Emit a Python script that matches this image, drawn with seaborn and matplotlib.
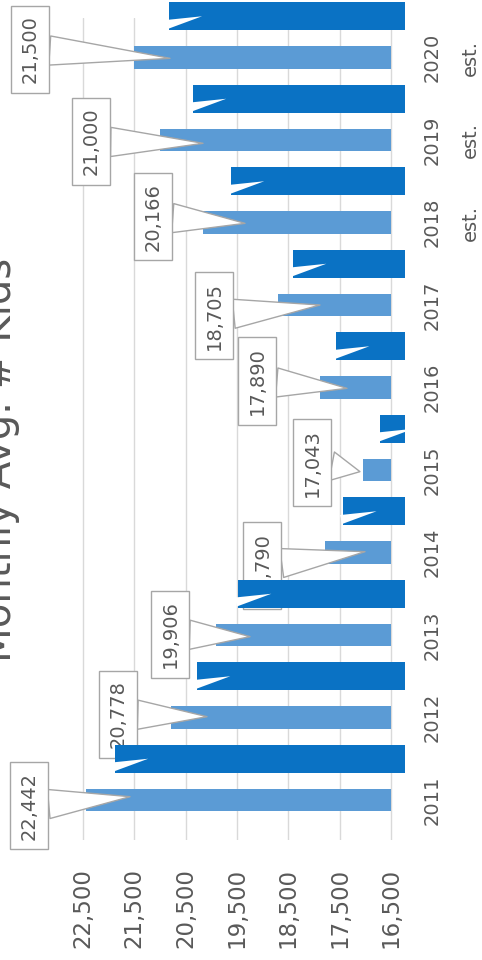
import numpy as np
import pandas as pd
import matplotlib
matplotlib.use("Agg")
import matplotlib.pyplot as plt
import seaborn as sns

# ---- data ----
years = ["2011", "2012", "2013", "2014", "2015", "2016", "2017", "2018", "2019", "2020"]
estimated = [False, False, False, False, False, False, False, True, True, True]
monthly_avg = [22442, 20778, 19906, 17790, 17043, 17890, 18705, 20166, 21000, 21500]
second_series = [21880, 20280, 19480, 17430, 16710, 17570, 18410, 19620, 20360, 20830]
value_ticks = [16500, 17500, 18500, 19500, 20500, 21500, 22500]

# ---- layout / style ----
BASE = 16500
DARK_BASE = 16220
LIGHT = "#5b9bd5"
DARK = "#0a72c4"
GRID = "#d9d9d9"
TEXT = "#595959"
# callout box centre and pointer tip, in (value, position) coordinates
callout_box = [(23552, -0.07), (21818, 1.04), (20805, 2.01), (19013, 2.84), (18039, 4.09),
               (19110, 5.08), (19948, 5.87), (21136, 7.07), (22344, 7.98), (23532, 9.10)]
callout_tip = [(21584, 0.04), (20084, 1.01), (19247, 1.98), (17006, 3.01), (17104, 3.98),
               (17357, 4.99), (17883, 6.00), (19344, 6.99), (20162, 7.96), (20805, 8.99)]

sns.set_theme(style="white")
plt.rcParams["font.family"] = ["DejaVu Sans"]

fig = plt.figure(figsize=(4.82, 9.6), dpi=100)
ax = fig.add_axes([70 / 482, 120 / 960, 345 / 482, 822 / 960])

light_df = pd.DataFrame({"pos": np.arange(len(years), dtype=float), "value": monthly_avg})
dark_df = pd.DataFrame({"pos": np.arange(len(years), dtype=float) + 0.5, "value": second_series})

sns.barplot(data=light_df, x="value", y="pos", orient="h", native_scale=True,
            color=LIGHT, saturation=1, width=0.27, errorbar=None, ax=ax)
light_patches = list(ax.patches)
sns.barplot(data=dark_df, x="value", y="pos", orient="h", native_scale=True,
            color=DARK, saturation=1, width=0.34, errorbar=None, ax=ax)
dark_patches = [p for p in ax.patches if p not in light_patches]

# bars rise from the axis floor rather than from zero
for p, v in zip(light_patches, monthly_avg):
    p.set_x(BASE)
    p.set_width(v - BASE)
    p.set_zorder(2)
    p.set_linewidth(0)
for p, v in zip(dark_patches, second_series):
    p.set_x(DARK_BASE)
    p.set_width(v - DARK_BASE)
    p.set_zorder(4)
    p.set_linewidth(0)
    p.set_clip_on(False)

ax.set_xlim(22753, 16032)
ax.set_ylim(-0.485, 9.479)

for s in ax.spines.values():
    s.set_visible(False)

ax.set_xticks(value_ticks)
ax.set_xticklabels([f"{t:,}" for t in value_ticks])
ax.grid(axis="x", color=GRID, lw=1)
ax.grid(axis="y", visible=False)
ax.set_axisbelow(True)
ax.tick_params(axis="x", length=0, pad=20, labelsize=16.5, labelcolor=TEXT, labelrotation=90)

ax.set_yticks(range(len(years)))
ax.set_yticklabels([y + ("\nest." if e else "") for y, e in zip(years, estimated)])
ax.yaxis.tick_right()
ax.tick_params(axis="y", length=0, pad=5.5, labelsize=14, labelcolor=TEXT,
               labelright=True, labelleft=False, labelrotation=90)
for t in ax.get_yticklabels():
    t.set_va("center")
    t.set_ha("left")
    t.set_multialignment("center")
    t.set_linespacing(2.25)
ax.set_xlabel("")
ax.set_ylabel("")

# value callouts
for v, box, tip in zip(monthly_avg, callout_box, callout_tip):
    ax.annotate(f"{v:,}", xy=tip, xytext=box, rotation=90, ha="center", va="center",
                fontsize=14, color=TEXT, zorder=3, annotation_clip=False,
                bbox=dict(boxstyle="square,pad=0.5", fc="white", ec="#a6a6a6", lw=1),
                arrowprops=dict(arrowstyle="wedge,tail_width=1.5,shrink_factor=0.5",
                                fc="white", ec="#a6a6a6", lw=1, shrinkA=0, shrinkB=0))

# small white notches near the end of each dark bar
for i, v in enumerate(second_series):
    ax.annotate("", xy=(v - 650, i + 0.5), xytext=(v + 40, i + 0.5 - 0.1),
                zorder=5, annotation_clip=False,
                arrowprops=dict(arrowstyle="wedge,tail_width=0.55,shrink_factor=0.5",
                                fc="white", ec="none", shrinkA=0, shrinkB=0))

fig.text(20 / 482, 0.521, "Monthly Avg. # Kids", rotation=90, ha="right", va="center",
         fontsize=29, color=TEXT)

fig.savefig("out.png", dpi=100, facecolor="white")
